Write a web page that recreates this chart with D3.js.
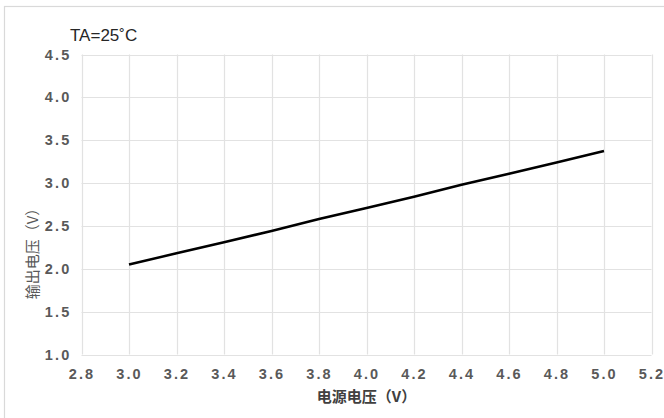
<!DOCTYPE html>
<html>
<head>
<meta charset="utf-8">
<script src="https://cdn.jsdelivr.net/npm/d3@7"></script>
<style>
html,body{margin:0;padding:0;background:#fff;}
svg{display:block;}
</style>
</head>
<body>
<svg id="chart" width="664" height="418"></svg>
<script>
// Data
const supplyVoltage = [3.0, 3.2, 3.4, 3.6, 3.8, 4.0, 4.2, 4.4, 4.6, 4.8, 5.0];
const outputVoltage = [2.05, 2.18, 2.31, 2.44, 2.58, 2.71, 2.84, 2.98, 3.11, 3.24, 3.375];
const xTicks = [2.8, 3.0, 3.2, 3.4, 3.6, 3.8, 4.0, 4.2, 4.4, 4.6, 4.8, 5.0, 5.2];
const yTicks = [1.0, 1.5, 2.0, 2.5, 3.0, 3.5, 4.0, 4.5];
const annotation = "TA=25˚C";
const xTitle = "电源电压（V）";
const yTitle = "输出电压（V）";

const svg = d3.select("#chart");
const m = {left: 81.5, right: 651.5, top: 54.5, bottom: 354.5};

// outer frame
svg.append("rect").attr("x", 4.5).attr("y", 6.5).attr("width", 700).attr("height", 440)
  .attr("fill", "none").attr("stroke", "#d9d9d9").attr("stroke-width", 1.2);

const x = d3.scaleLinear().domain([2.8, 5.2]).range([m.left, m.right]);
const y = d3.scaleLinear().domain([1.0, 4.5]).range([m.bottom, m.top]);

const grid = svg.append("g");
grid.selectAll("line.v").data(xTicks).join("line")
  .attr("x1", d => Math.round(x(d)) + 0.5).attr("x2", d => Math.round(x(d)) + 0.5)
  .attr("y1", m.top).attr("y2", m.bottom)
  .attr("stroke", "#e2e2e2").attr("stroke-width", 1.2);
grid.selectAll("line.h").data(yTicks).join("line")
  .attr("y1", d => Math.round(y(d)) + 0.5).attr("y2", d => Math.round(y(d)) + 0.5)
  .attr("x1", m.left).attr("x2", m.right)
  .attr("stroke", "#e2e2e2").attr("stroke-width", 1.2);

// axes via d3
const xAxis = d3.axisBottom(x).tickValues(xTicks).tickFormat(d3.format(".1f")).tickSize(0).tickPadding(14);
const yAxis = d3.axisLeft(y).tickValues(yTicks).tickFormat(d3.format(".1f")).tickSize(0).tickPadding(10);

const gx = svg.append("g").attr("transform", `translate(0,${m.bottom})`).call(xAxis);
const gy = svg.append("g").attr("transform", `translate(${m.left},0)`).call(yAxis);
[gx, gy].forEach(g => {
  g.select(".domain").remove();
  g.selectAll("text")
    .attr("fill", "#595959")
    .style("font-family", "'Liberation Sans', Arial, sans-serif")
    .style("font-size", "14.5px")
    .style("font-weight", "bold")
    .style("letter-spacing", "2.2px");
});

// line
const line = d3.line().x((d, i) => x(supplyVoltage[i])).y(d => y(d));
svg.append("path").datum(outputVoltage)
  .attr("d", line)
  .attr("fill", "none").attr("stroke", "#000").attr("stroke-width", 2.6)
  .attr("stroke-linecap", "butt");

// annotation
svg.append("text").attr("x", 70).attr("y", 41).text(annotation)
  .attr("fill", "#262626")
  .style("font-family", "'Liberation Sans Narrow', 'Liberation Sans', Arial, sans-serif")
  .style("font-size", "17px");

// axis titles
svg.append("text").attr("x", (m.left + m.right) / 2).attr("y", 402)
  .attr("text-anchor", "middle").text(xTitle)
  .attr("fill", "#404040")
  .style("font-family", "'Noto Sans CJK SC', sans-serif")
  .style("font-size", "15px").style("font-weight", "bold");

svg.append("text")
  .attr("transform", `translate(38,${250}) rotate(-90)`)
  .attr("text-anchor", "middle").text(yTitle)
  .attr("fill", "#595959")
  .style("font-family", "'Noto Sans CJK SC', sans-serif")
  .style("font-size", "15px");
</script>
</body>
</html>
